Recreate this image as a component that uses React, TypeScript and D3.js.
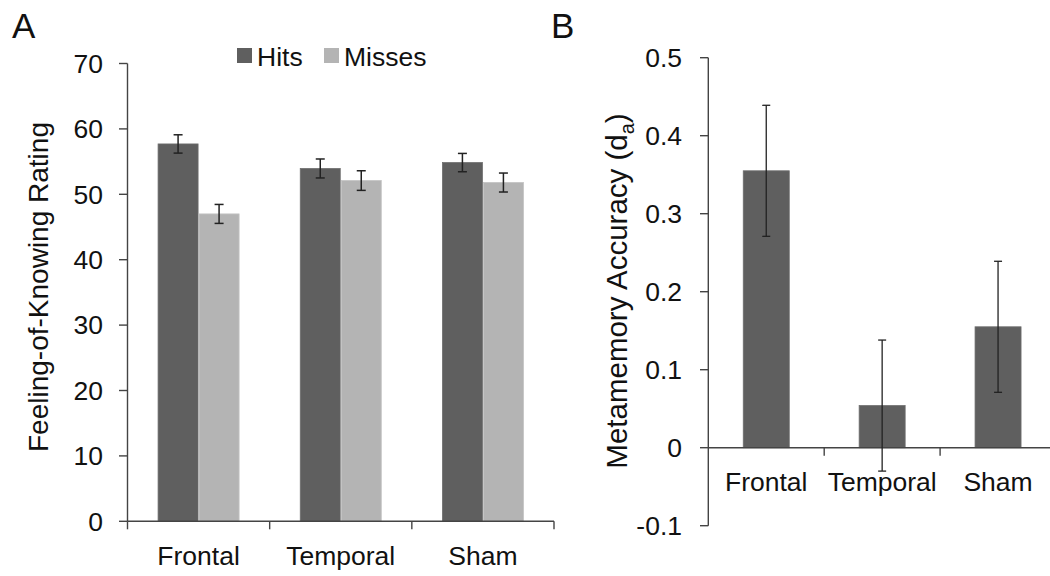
import React from "react";
import * as d3 from "d3";

const categories = ["Frontal", "Temporal", "Sham"];
const seriesNames = ["Hits", "Misses"];
const hitsMean = [57.7, 53.95, 54.85];
const hitsErr = [1.4, 1.45, 1.4];
const missesMean = [47.0, 52.1, 51.8];
const missesErr = [1.45, 1.5, 1.45];
const ticksA = [0, 10, 20, 30, 40, 50, 60, 70];

const daMean = [0.355, 0.054, 0.155];
const daErr = [0.084, 0.084, 0.084];
const ticksB = [-0.1, 0, 0.1, 0.2, 0.3, 0.4, 0.5];

const DARK = "#5f5f5f";
const LIGHT = "#b4b4b4";
const AXIS = "#444";
const TXT = "#111";
const FONT = "'Liberation Sans', Arial, sans-serif";

export default function App() {
  // Panel A scales
  const xA = d3.scaleBand<string>().domain(categories).range([127.5, 554]).padding(0);
  const yA = d3.scaleLinear().domain([0, 70]).range([521.3, 63.5]);
  const bwA = xA.bandwidth();
  const x1 = d3.scaleBand<string>().domain(seriesNames).range([bwA / 2 - 41, bwA / 2 + 41]).padding(0);
  const seriesData = [
    { name: "Hits", mean: hitsMean, err: hitsErr, color: DARK },
    { name: "Misses", mean: missesMean, err: missesErr, color: LIGHT },
  ];

  // Panel B scales
  const xB = d3.scaleBand<string>().domain(categories).range([708.3, 1056]).padding(0);
  const yB = d3.scaleLinear().domain([-0.1, 0.5]).range([525.7, 57.7]);
  const bwB = xB.bandwidth();
  const barWB = 46;
  const fmtB = (d: number) => (Math.abs(d) < 1e-9 ? "0" : d.toFixed(1));

  const boundariesA = [...categories.map((c) => xA(c)!), xA.range()[1]];
  const boundariesB = categories.slice(1).map((c) => xB(c)!);

  return (
    <div style={{ position: "absolute", left: 0, top: 0 }}>
      <svg width={1050} height={576} style={{ display: "block", fontFamily: FONT }}>
        <rect x={0} y={0} width={1050} height={576} fill="#fff" />
        {/* Panel labels */}
        <text x={12} y={38} fontSize={35} fill={TXT}>A</text>
        <text x={551} y={38} fontSize={35} fill={TXT}>B</text>

        {/* ===== Panel A ===== */}
        {seriesData.map((s) =>
          categories.map((c, i) => {
            const x = xA(c)! + x1(s.name)!;
            const y = yA(s.mean[i]);
            return (
              <rect key={s.name + c} x={x + 0.5} y={y} width={x1.bandwidth() - 1}
                height={yA(0) - y} fill={s.color} stroke={s.name === "Hits" ? "#6e6e6e" : "#c2c2c2"} strokeWidth={0.8} />
            );
          })
        )}
        {seriesData.map((s) =>
          categories.map((c, i) => {
            const cx = xA(c)! + x1(s.name)! + x1.bandwidth() / 2;
            const y1 = yA(s.mean[i] + s.err[i]);
            const y2 = yA(s.mean[i] - s.err[i]);
            return (
              <g key={"e" + s.name + c} stroke="#222" strokeWidth={1.5}>
                <line x1={cx} x2={cx} y1={y1} y2={y2} />
                <line x1={cx - 4.5} x2={cx + 4.5} y1={y1} y2={y1} />
                <line x1={cx - 4.5} x2={cx + 4.5} y1={y2} y2={y2} />
              </g>
            );
          })
        )}
        <line x1={127.5} x2={127.5} y1={yA(70)} y2={yA(0)} stroke={AXIS} strokeWidth={1.4} />
        {ticksA.map((t) => (
          <g key={"ta" + t}>
            <line x1={119} x2={127.5} y1={yA(t)} y2={yA(t)} stroke={AXIS} strokeWidth={1.4} />
            <text x={103} y={yA(t)} dy="0.35em" textAnchor="end" fontSize={26.5} fill={TXT}>{t}</text>
          </g>
        ))}
        <line x1={127.5} x2={554} y1={yA(0)} y2={yA(0)} stroke={AXIS} strokeWidth={1.4} />
        {boundariesA.map((b, i) => (
          <line key={"xb" + i} x1={b} x2={b} y1={yA(0)} y2={yA(0) + 8} stroke={AXIS} strokeWidth={1.4} />
        ))}
        {categories.map((c) => (
          <text key={"xl" + c} x={xA(c)! + bwA / 2} y={565} textAnchor="middle" fontSize={26.5} fill={TXT}>{c}</text>
        ))}
        <text transform={`translate(48,287) rotate(-90)`} textAnchor="middle" fontSize={28} fill={TXT}>
          Feeling-of-Knowing Rating
        </text>
        {seriesData.map((s, i) => {
          const lx = [237, 324][i];
          return (
            <g key={"lg" + s.name}>
              <rect x={lx} y={48} width={15} height={15} fill={s.color} />
              <text x={lx + 20} y={66} fontSize={26.5} fill={TXT}>{s.name}</text>
            </g>
          );
        })}

        {/* ===== Panel B ===== */}
        {categories.map((c, i) => {
          const cx = xB(c)! + bwB / 2;
          const y = yB(daMean[i]);
          return (
            <rect key={"bb" + c} x={cx - barWB / 2} y={y} width={barWB} height={yB(0) - y}
              fill={DARK} stroke="#6e6e6e" strokeWidth={0.8} />
          );
        })}
        <line x1={708.3} x2={1056} y1={yB(0)} y2={yB(0)} stroke={AXIS} strokeWidth={1.4} />
        {boundariesB.map((b, i) => (
          <line key={"bxb" + i} x1={b} x2={b} y1={yB(0)} y2={yB(0) + 8} stroke={AXIS} strokeWidth={1.4} />
        ))}
        <line x1={708.3} x2={708.3} y1={yB(0.5)} y2={yB(-0.1)} stroke={AXIS} strokeWidth={1.4} />
        {ticksB.map((t) => (
          <g key={"tb" + t}>
            <line x1={700} x2={708.3} y1={yB(t)} y2={yB(t)} stroke={AXIS} strokeWidth={1.4} />
            <text x={682} y={yB(t)} dy="0.35em" textAnchor="end" fontSize={26.5} fill={TXT}>{fmtB(t)}</text>
          </g>
        ))}
        {categories.map((c, i) => {
          const cx = xB(c)! + bwB / 2;
          const y1 = yB(daMean[i] + daErr[i]);
          const y2 = yB(daMean[i] - daErr[i]);
          return (
            <g key={"be" + c} stroke="#222" strokeWidth={1.3}>
              <line x1={cx} x2={cx} y1={y1} y2={y2} />
              <line x1={cx - 4} x2={cx + 4} y1={y1} y2={y1} />
              <line x1={cx - 4} x2={cx + 4} y1={y2} y2={y2} />
            </g>
          );
        })}
        {categories.map((c) => (
          <text key={"bxl" + c} x={xB(c)! + bwB / 2} y={491} textAnchor="middle" fontSize={26.5} fill={TXT}>{c}</text>
        ))}
        <text transform={`translate(627,291) rotate(-90)`} textAnchor="middle" fontSize={29.5} fill={TXT}>
          Metamemory Accuracy (d<tspan fontSize={20} dy={7}>a</tspan><tspan dy={-7}>)</tspan>
        </text>
      </svg>
    </div>
  );
}
